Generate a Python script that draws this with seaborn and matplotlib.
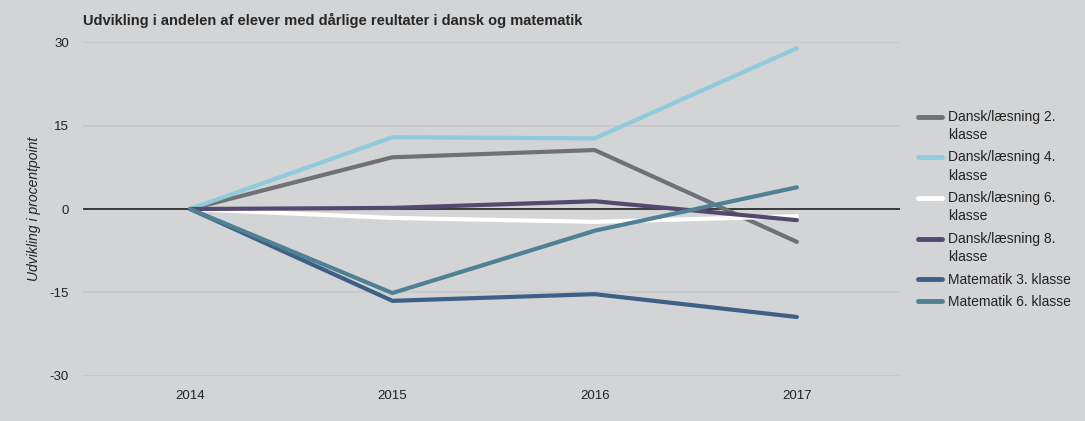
import numpy as np
import pandas as pd
import seaborn as sns
import matplotlib.pyplot as plt
from matplotlib.legend_handler import HandlerLine2D

years = ["2014", "2015", "2016", "2017"]
series_names = [
    "Dansk/læsning 2.\nklasse",
    "Dansk/læsning 4.\nklasse",
    "Dansk/læsning 6.\nklasse",
    "Dansk/læsning 8.\nklasse",
    "Matematik 3. klasse",
    "Matematik 6. klasse",
]
dansk_2 = [0, 9.3, 10.6, -5.9]
dansk_4 = [0, 12.9, 12.7, 28.9]
dansk_6 = [0, -1.6, -2.3, -1.3]
dansk_8 = [0, 0.2, 1.4, -2.0]
matematik_3 = [0, -16.5, -15.3, -19.4]
matematik_6 = [0, -15.1, -3.9, 3.9]
colors = ["#6e7176", "#8fcbdc", "#ffffff", "#54486e", "#3e5f86", "#4f8194"]

values = [dansk_2, dansk_4, dansk_6, dansk_8, matematik_3, matematik_6]
df = pd.DataFrame(
    [(y, name, v) for name, vals in zip(series_names, values) for y, v in zip(years, vals)],
    columns=["year", "serie", "value"],
)

LEG_FS = 10
LEG_LS = 1.4


# put the legend line next to the first text line of a wrapped label
class FirstLineHandler(HandlerLine2D):
    def create_artists(self, legend, orig_handle, xdescent, ydescent, width, height, fontsize, trans):
        arts = super().create_artists(legend, orig_handle, xdescent, ydescent, width, height, fontsize, trans)
        for a in arts:
            a.set_ydata(np.asarray(a.get_ydata()) + LEG_FS * LEG_LS / 2)
        return arts


bg = "#d3d4d6"
sns.set_theme(style="white")
plt.rcParams['font.family'] = ['Liberation Sans', 'DejaVu Sans']
plt.rcParams['axes.unicode_minus'] = False

fig = plt.figure(figsize=(10.85, 4.21), dpi=100, facecolor=bg)
ax = fig.add_axes([0.0765, 0.107, 0.753, 0.793], facecolor=bg)

ax.axhline(0, color="#222222", lw=1.2, zorder=1)
sns.lineplot(data=df, x="year", y="value", hue="serie", hue_order=series_names,
             palette=colors, lw=3, ax=ax, sort=False, zorder=3)

ax.set_ylim(-30, 30)
ax.set_xlim(-0.53, 3.51)
ax.set_yticks([-30, -15, 0, 15, 30])
ax.yaxis.grid(True, color="#c6c7c9", lw=1.2)
ax.set_axisbelow(True)
for s in ax.spines.values():
    s.set_visible(False)
ax.tick_params(axis="both", length=0, labelsize=9.5, colors="#222222")
ax.tick_params(axis="y", pad=10)
ax.tick_params(axis="x", pad=10)
ax.set_xlabel("")
ax.set_ylabel("Udvikling i procentpoint", fontstyle="italic", fontsize=10, color="#222222", labelpad=6)
ax.set_title("Udvikling i andelen af elever med dårlige reultater i dansk og matematik",
             fontsize=10.5, fontweight="bold", loc="left", x=0.0, pad=12)

handles, labels = ax.get_legend_handles_labels()
hmap = {h: FirstLineHandler() for h, l in zip(handles, labels) if "\n" in l}
leg = ax.legend(handles, labels, handler_map=hmap,
                loc="center left", bbox_to_anchor=(0.846, 0.503), bbox_transform=fig.transFigure,
                frameon=False, fontsize=LEG_FS, handlelength=1.75, labelspacing=0.6,
                handletextpad=0.4, borderaxespad=0, borderpad=0)
for line in leg.get_lines():
    line.set_linewidth(3.5)
for t in leg.get_texts():
    t.set_linespacing(LEG_LS)
    t.set_color("#222222")

fig.savefig("out.png", dpi=100, facecolor=bg)
